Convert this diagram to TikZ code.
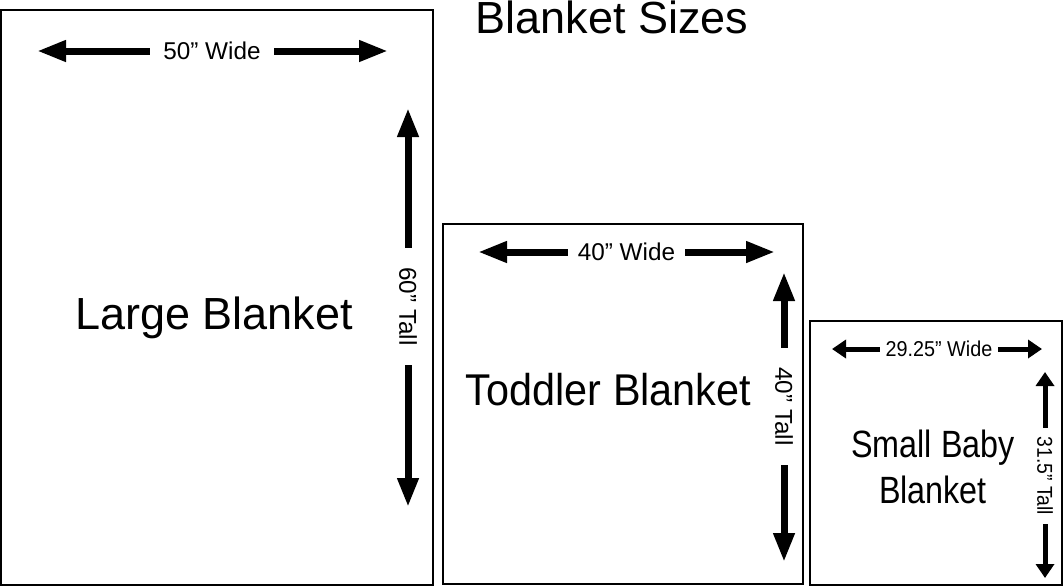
\documentclass[tikz,border=0pt]{standalone}
\usepackage{fontspec}
\setmainfont{Liberation Sans}
\usetikzlibrary{arrows.meta}
\begin{document}
\begin{tikzpicture}[x=1pt,y=-1pt,
  blanket/.style={draw=black,line width=2pt},
  bigarr/.style={line width=7pt,-{Triangle[length=29pt,width=20pt]}},
  smallarr/.style={line width=5pt,-{Triangle[length=14pt,width=18pt]}},
  dimlbl/.style={inner sep=0pt,font=\fontsize{24.3}{28}\selectfont},
  smalllbl/.style={inner sep=0pt,font=\fontsize{21.5}{25}\selectfont},
  vlbl/.style={rotate=-90}]
\useasboundingbox (0,0) rectangle (1063,587);
% blankets
\draw[blanket] (1,10) rectangle (432.5,584.5);
\draw[blanket] (442.5,224) rectangle (802.5,584);
\draw[blanket] (809.5,321) rectangle (1061.5,585);
% title and names
\node[anchor=base,inner sep=0pt,font=\fontsize{45}{50}\selectfont] (title) at (612,33.5) {Blanket Sizes};
\node[anchor=base,inner sep=0pt,font=\fontsize{45}{50}\selectfont] (large) at (214,329) {Large Blanket};
\node[anchor=base,inner sep=0pt,font=\fontsize{44.5}{50}\selectfont] (toddler) at (608.5,405) {\scalebox{0.93}[1]{Toddler Blanket}};
\node[anchor=base,inner sep=0pt,font=\fontsize{38}{44}\selectfont] (small1) at (933,457) {\scalebox{0.85}[1]{Small Baby}};
\node[anchor=base,inner sep=0pt,font=\fontsize{38}{44}\selectfont] (small2) at (933,503) {\scalebox{0.85}[1]{Blanket}};
% large dims
\node[dimlbl,minimum width=124pt] (w50) at (212,51) {50” Wide};
\coordinate (w50l) at (37,51);
\coordinate (w50r) at (388,51);
\draw[bigarr] (w50.west) -- (w50l);
\draw[bigarr] (w50.east) -- (w50r);
\node[dimlbl,vlbl,minimum width=117pt] (t60) at (408,306.5) {60” Tall};
\coordinate (t60t) at (408,108);
\coordinate (t60b) at (408,507);
\draw[bigarr] (t60.west) -- (t60t);
\draw[bigarr] (t60.east) -- (t60b);
% toddler dims
\node[dimlbl,minimum width=117pt] (w40) at (626.5,252) {40” Wide};
\coordinate (w40l) at (478,252);
\coordinate (w40r) at (775,252);
\draw[bigarr] (w40.west) -- (w40l);
\draw[bigarr] (w40.east) -- (w40r);
\node[dimlbl,vlbl,minimum width=117pt] (t40) at (784,406.5) {40” Tall};
\coordinate (t40t) at (784,272);
\coordinate (t40b) at (784,562);
\draw[bigarr] (t40.west) -- (t40t);
\draw[bigarr] (t40.east) -- (t40b);
% small dims
\node[smalllbl,minimum width=118pt] (w29) at (939,349) {\scalebox{0.92}[1]{29.25” Wide}};
\coordinate (w29l) at (832,349);
\coordinate (w29r) at (1042,349);
\draw[smallarr] (w29.west) -- (w29l);
\draw[smallarr] (w29.east) -- (w29r);
\node[smalllbl,vlbl,minimum width=96pt] (t31) at (1045,476) {\scalebox{0.9}[1]{31.5” Tall}};
\coordinate (t31t) at (1045,372);
\coordinate (t31b) at (1045,578);
\draw[smallarr] (t31.west) -- (t31t);
\draw[smallarr] (t31.east) -- (t31b);
\end{tikzpicture}
\end{document}
